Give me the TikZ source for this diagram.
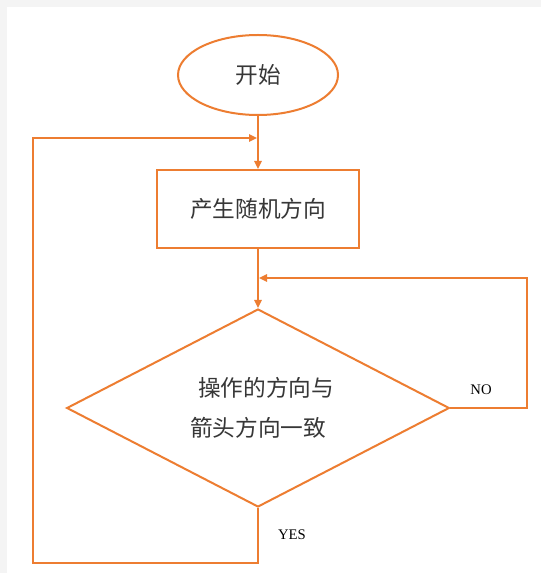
\documentclass[tikz,border=0pt]{standalone}
\usepackage{fontspec}
\setmainfont{Liberation Serif}
\newfontfamily\cjk{Noto Sans CJK SC}
\usetikzlibrary{shapes.geometric}
\usetikzlibrary{arrows.meta}
\definecolor{floworange}{RGB}{237,125,49}
\definecolor{flowtext}{RGB}{55,55,55}

\begin{document}
\begin{tikzpicture}[x=0.75pt,y=0.75pt,yscale=-1,xscale=1,
  flowline/.style={draw=floworange, line width=1.5pt},
  flowarrow/.style={flowline, -{Triangle[length=6pt,width=5.5pt]}},
  cjktext/.style={font=\cjk\fontsize{17}{30}\selectfont, text=flowtext},
  yesno/.style={font=\fontsize{11}{13}\selectfont, text=black, inner sep=0.75pt}]
%set diagram size to 541 x 573
\useasboundingbox (0,0) rectangle (541,573);
\fill [color={rgb, 255:red, 244; green, 244; blue, 244 }] (0,0) rectangle (541,573);
\fill [white] (7,7) rectangle (541,573);

%Shape: Ellipse [id:start]
\node (start) [ellipse, flowline, fill=white, minimum width=120pt, minimum height=60pt, inner sep=0pt, cjktext] at (258,75) {开始};
%Shape: Rectangle [id:gen]
\node (gen) [rectangle, flowline, fill=white, minimum width=152pt, minimum height=58.5pt, inner sep=0pt, cjktext] at (258,209) {产生随机方向};
%Shape: Diamond [id:check]
\node (check) [diamond, aspect=2, flowline, fill=white, minimum width=287pt, minimum height=148.5pt, inner sep=0pt, align=center, cjktext] at (258,408) {\hspace{12pt}操作的方向与\\箭头方向一致};

%Turning points
\coordinate (backL) at (33,563);
\coordinate (mergeA) at (257,138);
\coordinate (noR) at (527,278);
\coordinate (mergeB) at (259,278);

%Straight Lines
\draw [flowarrow] (start) -- (gen);
\draw [flowarrow] (gen) -- (check);
%YES branch back to the top
\draw [flowarrow] (check.south) |- (backL) |- (mergeA);
%NO branch back to the check
\draw [flowarrow] (check.east) -| (noR) -- (mergeB);

% Text Node
\node (nolbl) [yesno] at (481,390) {NO};
% Text Node
\node (yeslbl) [yesno] at (292,535) {YES};

\end{tikzpicture}
\end{document}
